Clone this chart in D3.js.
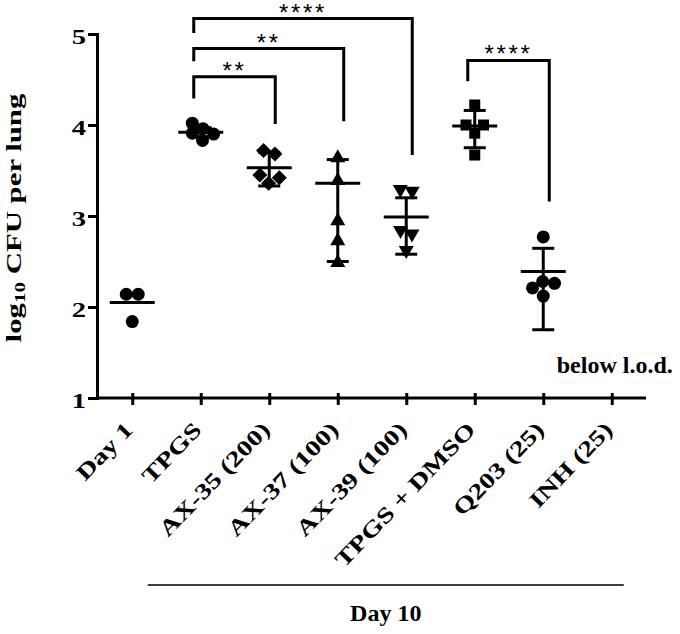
<!DOCTYPE html>
<meta charset="utf-8">
<style>
body { margin: 0; background: #fff; }
svg text { font-family: 'Liberation Serif', 'Times New Roman', serif; font-weight: bold; fill: #000; }
.stars { font-family: 'Liberation Sans', Arial, sans-serif !important; font-weight: normal !important; }
</style>
<body>
<script src="https://d3js.org/d3.v7.min.js"></script>
<script>
// groups on the x axis
var groups = ["Day 1", "TPGS", "AX-35 (200)", "AX-37 (100)", "AX-39 (100)", "TPGS + DMSO", "Q203 (25)", "INH (25)"];
var shapes = ["circle", "circle", "diamond", "triangle", "triangleDown", "square", "circle", null];

// log10 CFU per lung, one list per group
var dayOne = [2.14, 2.14, 1.84];
var tpgs = [4.02, 3.96, 3.91, 3.90, 3.83];
var ax35 = [3.72, 3.68, 3.45, 3.42, 3.36];
var ax37 = [3.65, 3.40, 2.96, 2.74, 2.50];
var ax39 = [3.28, 3.26, 2.83, 2.79, 2.61];
var tpgsDmso = [4.22, 4.00, 4.00, 3.91, 3.67];
var q203 = [2.77, 2.28, 2.26, 2.21, 2.12];
var inh = [];
var points = [dayOne, tpgs, ax35, ax37, ax39, tpgsDmso, q203, inh];

var means = [2.05, 3.92, 3.53, 3.36, 2.99, 3.99, 2.39, null];
var errLow = [null, 3.87, 3.33, 2.50, 2.58, 3.75, 1.75, null];
var errHigh = [null, 3.97, 3.70, 3.62, 3.20, 4.16, 2.645, null];

var yTicks = [1, 2, 3, 4, 5];

// significance brackets (heights in log10 units)
var brFrom = ["TPGS", "TPGS", "TPGS", "TPGS + DMSO"];
var brTo = ["AX-35 (200)", "AX-37 (100)", "AX-39 (100)", "Q203 (25)"];
var brTop = [4.53, 4.84, 5.17, 4.71];
var brLeftEnd = [4.29, 4.70, 5.01, 4.48];
var brRightEnd = [4.01, 4.04, 3.67, 3.16];
var brLabel = ["**", "**", "****", "****"];

var width = 680, height = 634;
var stretch = 1.3; // axis texts are drawn wide

var svg = d3.select("body").append("svg")
    .attr("width", width)
    .attr("height", height);

var x = d3.scalePoint().domain(groups).range([98, 646]).padding(0.5);
var y = d3.scaleLinear().domain([1, 5]).range([398, 34]);

// y axis
var yAxis = svg.append("g")
    .attr("transform", "translate(97,0)")
    .call(d3.axisLeft(y).tickValues(yTicks).tickSize(9).tickSizeOuter(0).tickFormat(d3.format("d")));
yAxis.select(".domain").attr("stroke-width", 3).attr("stroke-linecap", "square");
yAxis.selectAll(".tick line").attr("stroke-width", 3);
yAxis.selectAll(".tick text")
    .attr("x", null)
    .attr("dy", null)
    .attr("transform", "translate(-11,9) scale(" + stretch + ",1)")
    .style("font-size", "22px");

// x axis
var xAxis = svg.append("g")
    .attr("transform", "translate(0,398)")
    .call(d3.axisBottom(x).tickSizeOuter(0).tickFormat(""));
xAxis.select(".domain").attr("d", "M97,0H646").attr("stroke-width", 3);
xAxis.selectAll(".tick line").attr("y1", -5).attr("y2", 7).attr("stroke-width", 3);

svg.append("g").selectAll("text")
  .data(groups)
  .join("text")
    .attr("text-anchor", "end")
    .attr("transform", d => "translate(" + (x(d) + 2) + ",431) rotate(-46) scale(" + stretch + ",1)")
    .style("font-size", "22px")
    .text(d => d);

// y title
var title = svg.append("text")
    .attr("text-anchor", "middle")
    .attr("transform", "translate(21,218) rotate(-90) scale(1.4,1)")
    .style("font-size", "22px");
title.append("tspan").text("log");
title.append("tspan").attr("dy", 4).style("font-size", "15px").text("10");
title.append("tspan").attr("dy", -4).text(" CFU per lung");

// Day 10 group line
svg.append("line")
    .attr("x1", x("TPGS") - 53).attr("x2", x("INH (25)") + 12)
    .attr("y1", 585).attr("y2", 585)
    .attr("stroke", "#000").attr("stroke-width", 1.5);
svg.append("text")
    .attr("x", (x("TPGS") - 53 + x("INH (25)") + 12) / 2)
    .attr("y", 621)
    .attr("text-anchor", "middle")
    .style("font-size", "24px")
    .text("Day 10");

svg.append("text")
    .attr("x", x("INH (25)") + 3)
    .attr("y", y(1.27))
    .attr("text-anchor", "middle")
    .style("font-size", "24px")
    .text("below l.o.d.");

// marker shapes
function shapePath(s) {
  if (s === "circle") return d3.symbol(d3.symbolCircle, Math.PI * 6.5 * 6.5)();
  if (s === "square") return "M-5.5,-5.5H5.5V5.5H-5.5Z";
  if (s === "diamond") return "M0,-7.5L7.5,0L0,7.5L-7.5,0Z";
  if (s === "triangle") return "M0,-7.5L7.5,5.5H-7.5Z";
  if (s === "triangleDown") return "M0,7.5L7.5,-5.5H-7.5Z";
  return "";
}

// scatter: dodge points horizontally
var dots = [];
groups.forEach(function(g, i) {
  var nodes = points[i].map(v => ({ g: g, shape: shapes[i], v: v, x: x(g), fy: y(v) }));
  var sim = d3.forceSimulation(nodes)
      .force("x", d3.forceX(x(g)).strength(0.08))
      .force("collide", d3.forceCollide(6).iterations(3))
      .stop();
  sim.tick(200);
  dots = dots.concat(nodes);
});

svg.append("g").selectAll("path")
  .data(dots)
  .join("path")
    .attr("d", d => shapePath(d.shape))
    .attr("transform", d => "translate(" + d.x + "," + y(d.v) + ")")
    .attr("fill", "#000");

// mean and error bars
var stats = groups.map((g, i) => ({ g: g, m: means[i], lo: errLow[i], hi: errHigh[i] }))
  .filter(d => d.m != null);

var bars = svg.append("g").attr("stroke", "#000").attr("stroke-width", 3);
bars.selectAll(".mean")
  .data(stats)
  .join("line")
    .attr("x1", d => x(d.g) - 22.5).attr("x2", d => x(d.g) + 22.5)
    .attr("y1", d => y(d.m)).attr("y2", d => y(d.m));
var eb = stats.filter(d => d.lo != null);
bars.selectAll(".stem")
  .data(eb)
  .join("line")
    .attr("x1", d => x(d.g)).attr("x2", d => x(d.g))
    .attr("y1", d => y(d.lo)).attr("y2", d => y(d.hi));
bars.selectAll(".capLo")
  .data(eb)
  .join("line")
    .attr("x1", d => x(d.g) - 11).attr("x2", d => x(d.g) + 11)
    .attr("y1", d => y(d.lo)).attr("y2", d => y(d.lo));
bars.selectAll(".capHi")
  .data(eb)
  .join("line")
    .attr("x1", d => x(d.g) - 11).attr("x2", d => x(d.g) + 11)
    .attr("y1", d => y(d.hi)).attr("y2", d => y(d.hi));

// brackets
var br = brFrom.map((f, i) => ({ x1: x(f) - 7, x2: x(brTo[i]) + 6, top: brTop[i], l: brLeftEnd[i], r: brRightEnd[i], label: brLabel[i] }));
svg.append("g").selectAll("path")
  .data(br)
  .join("path")
    .attr("d", d => "M" + d.x1 + "," + y(d.l) + "V" + y(d.top) + "H" + d.x2 + "V" + y(d.r))
    .attr("fill", "none").attr("stroke", "#000").attr("stroke-width", 3);
svg.append("g").selectAll("text")
  .data(br)
  .join("text")
    .attr("class", "stars")
    .attr("x", d => (d.x1 + d.x2) / 2)
    .attr("y", d => y(d.top) + 2)
    .attr("text-anchor", "middle")
    .style("font-size", "24px")
    .style("letter-spacing", "2.7px")
    .text(d => d.label);
</script>
</body>
